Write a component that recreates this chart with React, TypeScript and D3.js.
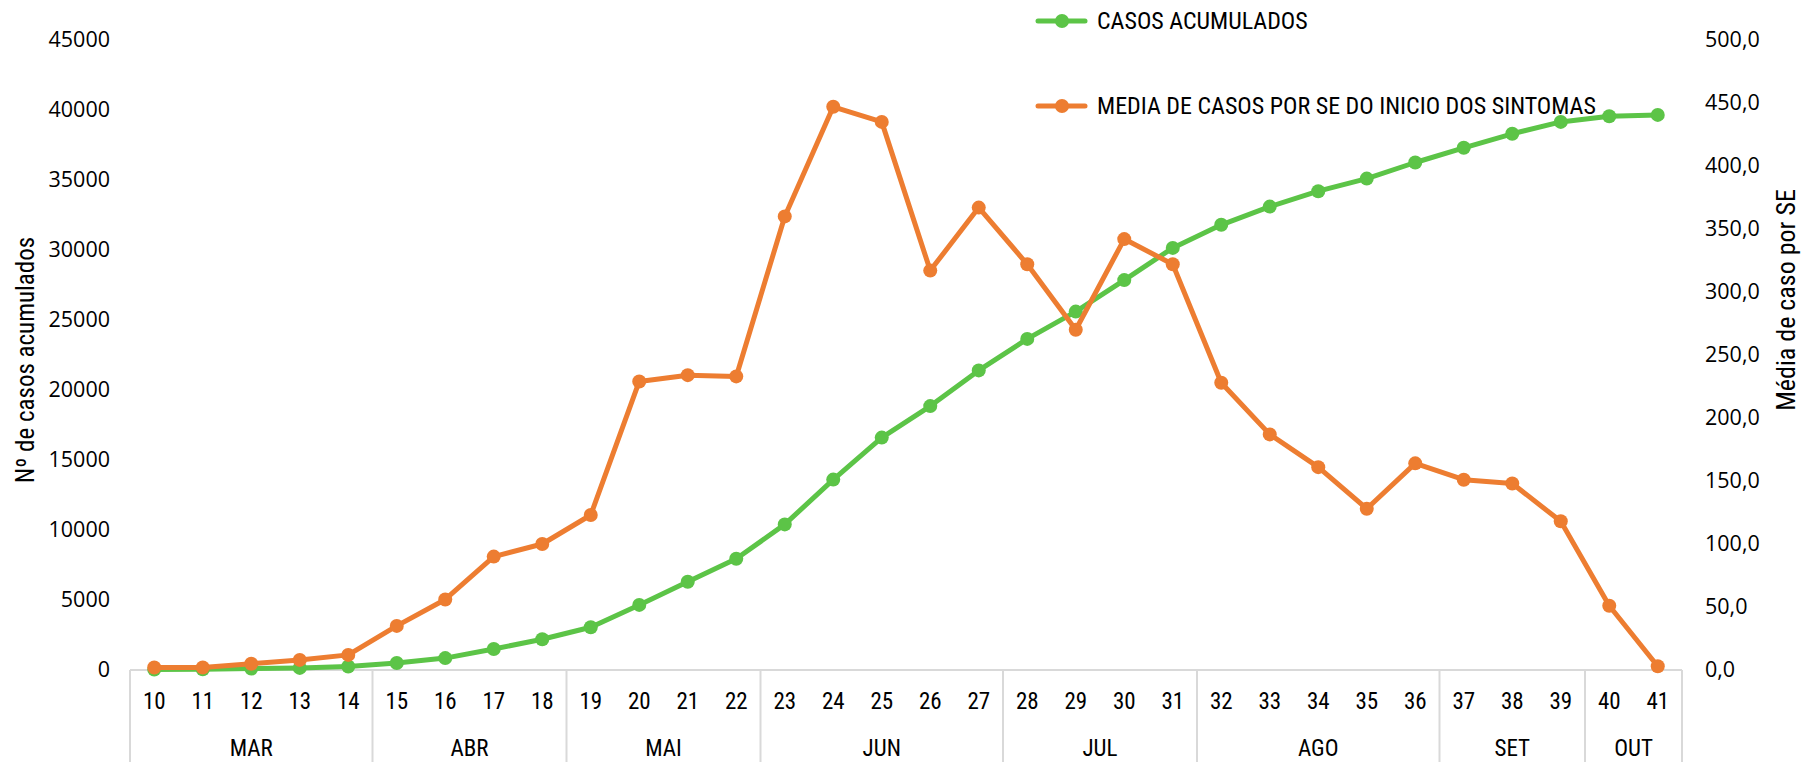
import React from "react";
import { scaleBand, scaleLinear, line } from "d3";

// semanas epidemiológicas
const weeks = [10, 11, 12, 13, 14, 15, 16, 17, 18, 19, 20, 21, 22, 23, 24, 25, 26, 27, 28, 29, 30, 31, 32, 33, 34, 35, 36, 37, 38, 39, 40, 41];

const months = [
  { name: "MAR", from: 10, to: 14 },
  { name: "ABR", from: 15, to: 18 },
  { name: "MAI", from: 19, to: 22 },
  { name: "JUN", from: 23, to: 27 },
  { name: "JUL", from: 28, to: 31 },
  { name: "AGO", from: 32, to: 36 },
  { name: "SET", from: 37, to: 39 },
  { name: "OUT", from: 40, to: 41 }
];

const casosAcumulados = [30, 50, 100, 150, 250, 500, 850, 1500, 2200, 3050, 4650, 6300, 7950, 10400, 13600, 16600, 18850, 21400, 23650, 25600, 27850, 30150, 31800, 33100, 34200, 35100, 36250, 37300, 38300, 39150, 39550, 39650];

const mediaCasos = [2, 2, 5, 8, 12, 35, 56, 90, 100, 123, 229, 234, 233, 360, 447, 435, 317, 367, 322, 270, 342, 322, 228, 187, 161, 128, 164, 151, 148, 118, 51, 3];

const leftTicks = [0, 5000, 10000, 15000, 20000, 25000, 30000, 35000, 40000, 45000];
const rightTicks = [0, 50, 100, 150, 200, 250, 300, 350, 400, 450, 500];

const GREEN = "#5cc447";
const ORANGE = "#ed7d31";
const GRID = "#d9d9d9";

export default function App() {
  const width = 1811;
  const height = 762;
  const plotLeft = 130;
  const plotRight = 1682;
  const plotTop = 40;
  const plotBottom = 670;

  const x = scaleBand<number>().domain(weeks).range([plotLeft, plotRight]).padding(0);
  const cx = (w: number) => (x(w) as number) + x.bandwidth() / 2;
  const yLeft = scaleLinear().domain([0, 45000]).range([plotBottom, plotTop]);
  const yRight = scaleLinear().domain([0, 500]).range([plotBottom, plotTop]);

  const greenLine = line<number>()
    .x((_, i) => cx(weeks[i]))
    .y(d => yLeft(d));
  const orangeLine = line<number>()
    .x((_, i) => cx(weeks[i]))
    .y(d => yRight(d));

  const numFont = "'Open Sans', 'Noto Sans', sans-serif";
  const catFont = "'Liberation Sans Narrow', 'Roboto Condensed', 'Noto Sans', sans-serif";

  const fmt = (v: number) => v.toFixed(1).replace(".", ",");

  return (
    <svg
      width={width}
      height={height}
      style={{ position: "absolute", left: 0, top: 0, background: "#fff" }}
    >
      {/* eixo de categorias em dois níveis */}
      <line x1={plotLeft} x2={plotRight} y1={plotBottom} y2={plotBottom} stroke={GRID} strokeWidth={2} />
      {months.map((m, i) => {
        const x0 = x(m.from) as number;
        const x1 = (x(m.to) as number) + x.bandwidth();
        return (
          <g key={m.name}>
            {i === 0 && <line x1={x0} x2={x0} y1={plotBottom} y2={height} stroke={GRID} strokeWidth={2} />}
            <line x1={x1} x2={x1} y1={plotBottom} y2={height} stroke={GRID} strokeWidth={2} />
            <text
              x={(x0 + x1) / 2}
              y={756}
              textAnchor="middle"
              fontFamily={catFont}
              fontSize={23}
              fill="#000"
            >
              {m.name}
            </text>
          </g>
        );
      })}
      {weeks.map(w => (
        <text
          key={w}
          x={cx(w)}
          y={709}
          textAnchor="middle"
          fontFamily={catFont}
          fontSize={23}
          fill="#000"
        >
          {w}
        </text>
      ))}

      {/* eixo esquerdo */}
      {leftTicks.map(t => (
        <text
          key={t}
          x={110}
          y={yLeft(t) + 7}
          textAnchor="end"
          fontFamily={numFont}
          fontSize={21.5}
          fill="#000"
        >
          {t}
        </text>
      ))}
      <text
        transform={`translate(34, ${(plotTop + plotBottom) / 2 + 5}) rotate(-90)`}
        textAnchor="middle"
        fontFamily={catFont}
        fontSize={25}
        fill="#000"
      >
        Nº de casos acumulados
      </text>

      {/* eixo direito */}
      {rightTicks.map(t => (
        <text
          key={t}
          x={1705}
          y={yRight(t) + 7}
          textAnchor="start"
          fontFamily={numFont}
          fontSize={21.5}
          fill="#000"
        >
          {fmt(t)}
        </text>
      ))}
      <text
        transform={`translate(1795, 300) rotate(-90)`}
        textAnchor="middle"
        fontFamily={catFont}
        fontSize={26}
        fill="#000"
      >
        Média de caso por SE
      </text>

      {/* séries */}
      <path d={greenLine(casosAcumulados) || ""} fill="none" stroke={GREEN} strokeWidth={5} strokeLinejoin="round" />
      {casosAcumulados.map((d, i) => (
        <circle key={"g" + i} cx={cx(weeks[i])} cy={yLeft(d)} r={7} fill={GREEN} />
      ))}
      <path d={orangeLine(mediaCasos) || ""} fill="none" stroke={ORANGE} strokeWidth={5} strokeLinejoin="round" />
      {mediaCasos.map((d, i) => (
        <circle key={"o" + i} cx={cx(weeks[i])} cy={yRight(d)} r={7} fill={ORANGE} />
      ))}

      {/* legenda */}
      <g>
        <line x1={1038} x2={1085} y1={21} y2={21} stroke={GREEN} strokeWidth={5} strokeLinecap="round" />
        <circle cx={1062} cy={21} r={7} fill={GREEN} />
        <text x={1097} y={29} fontFamily={catFont} fontSize={24} fill="#000">
          CASOS ACUMULADOS
        </text>
        <line x1={1038} x2={1085} y1={106} y2={106} stroke={ORANGE} strokeWidth={5} strokeLinecap="round" />
        <circle cx={1062} cy={106} r={7} fill={ORANGE} />
        <text x={1097} y={114} fontFamily={catFont} fontSize={24} fill="#000">
          MEDIA DE CASOS POR SE DO INICIO DOS SINTOMAS
        </text>
      </g>
    </svg>
  );
}
